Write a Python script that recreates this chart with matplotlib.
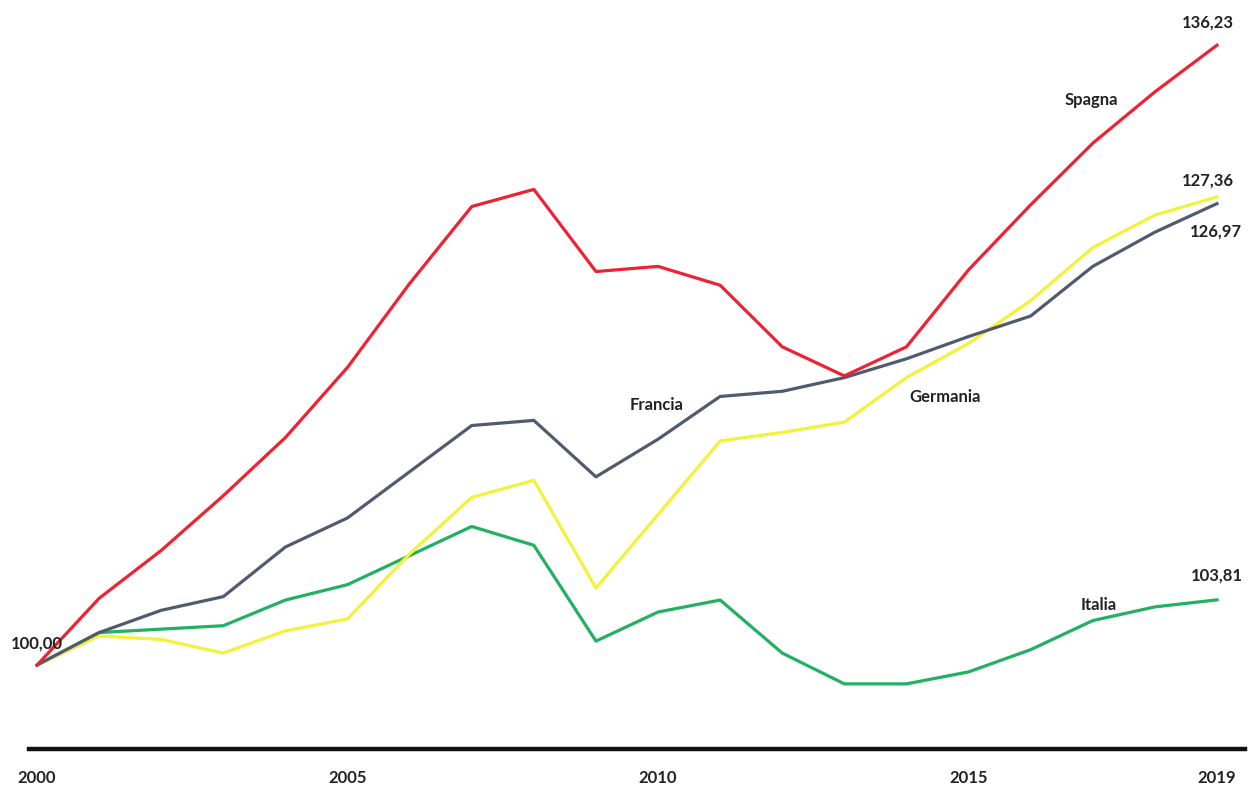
import matplotlib
matplotlib.use("Agg")
import matplotlib.pyplot as plt

years = list(range(2000, 2020))

spagna = [100.0, 103.9, 106.7, 109.9, 113.3, 117.4, 122.3, 126.8, 127.8, 123.0,
          123.3, 122.2, 118.6, 116.9, 118.6, 123.1, 126.9, 130.5, 133.5, 136.23]
francia = [100.0, 101.9, 103.2, 104.0, 106.9, 108.6, 111.3, 114.0, 114.3, 111.0,
           113.2, 115.7, 116.0, 116.8, 117.9, 119.2, 120.4, 123.3, 125.3, 126.97]
germania = [100.0, 101.7, 101.5, 100.7, 102.0, 102.7, 106.5, 109.8, 110.8, 104.5,
            108.8, 113.1, 113.6, 114.2, 116.8, 118.8, 121.3, 124.4, 126.3, 127.36]
italia = [100.0, 101.9, 102.1, 102.3, 103.8, 104.7, 106.4, 108.1, 107.0, 101.4,
          103.1, 103.8, 100.7, 98.9, 98.9, 99.6, 100.9, 102.6, 103.4, 103.81]

tick_years = [2000, 2005, 2010, 2015, 2019]

plt.rcParams['font.family'] = ['Lato', 'DejaVu Sans']

fig = plt.figure(figsize=(12.53, 7.85), dpi=100)
ax = fig.add_axes([0, 0, 1, 1])

lw = 2.3
ax.plot(years, italia, color='#22B061', lw=lw, solid_joinstyle='round')
ax.plot(years, germania, color='#F3F23A', lw=lw, solid_joinstyle='round')
ax.plot(years, francia, color='#515B70', lw=lw, solid_joinstyle='round')
ax.plot(years, spagna, color='#EE2232', lw=lw, solid_joinstyle='round')

ax.set_xlim(1999.404, 2019.58)
ax.set_ylim(92.99, 138.87)

for s in ['top', 'right', 'left']:
    ax.spines[s].set_visible(False)
ax.spines['bottom'].set_position(('data', 95.09))
ax.spines['bottom'].set_bounds(1999.87, 2019.45)
ax.spines['bottom'].set_linewidth(3.2)
ax.spines['bottom'].set_color('#111111')
ax.set_yticks([])
ax.set_xticks(tick_years)
ax.set_xticklabels([str(y) for y in tick_years], fontsize=12,
                   fontweight='bold', color='#222222')
ax.tick_params(axis='x', length=0, pad=15)

txt = dict(fontsize=12, fontweight='bold', color='#222222',
           ha='center', va='center')

def end_label(x, y, s, dx, dy):
    ax.annotate(s, (x, y), xytext=(dx, dy), textcoords='offset pixels', **txt)

end_label(years[0], spagna[0], f"{spagna[0]:.2f}".replace('.', ','), 0, 22)
end_label(years[-1], spagna[-1], f"{spagna[-1]:.2f}".replace('.', ','), -9, 23)
end_label(years[-1], germania[-1], f"{germania[-1]:.2f}".replace('.', ','), -9, 16)
end_label(years[-1], francia[-1], f"{francia[-1]:.2f}".replace('.', ','), -1, -28)
end_label(years[-1], italia[-1], f"{italia[-1]:.2f}".replace('.', ','), 0, 24)

ax.text(2016.97, 133.02, "Spagna", **txt)
ax.text(2009.97, 115.2, "Francia", **txt)
ax.text(2014.62, 115.66, "Germania", **txt)
ax.text(2017.09, 103.5, "Italia", **txt)

fig.savefig("out.png", dpi=100)
